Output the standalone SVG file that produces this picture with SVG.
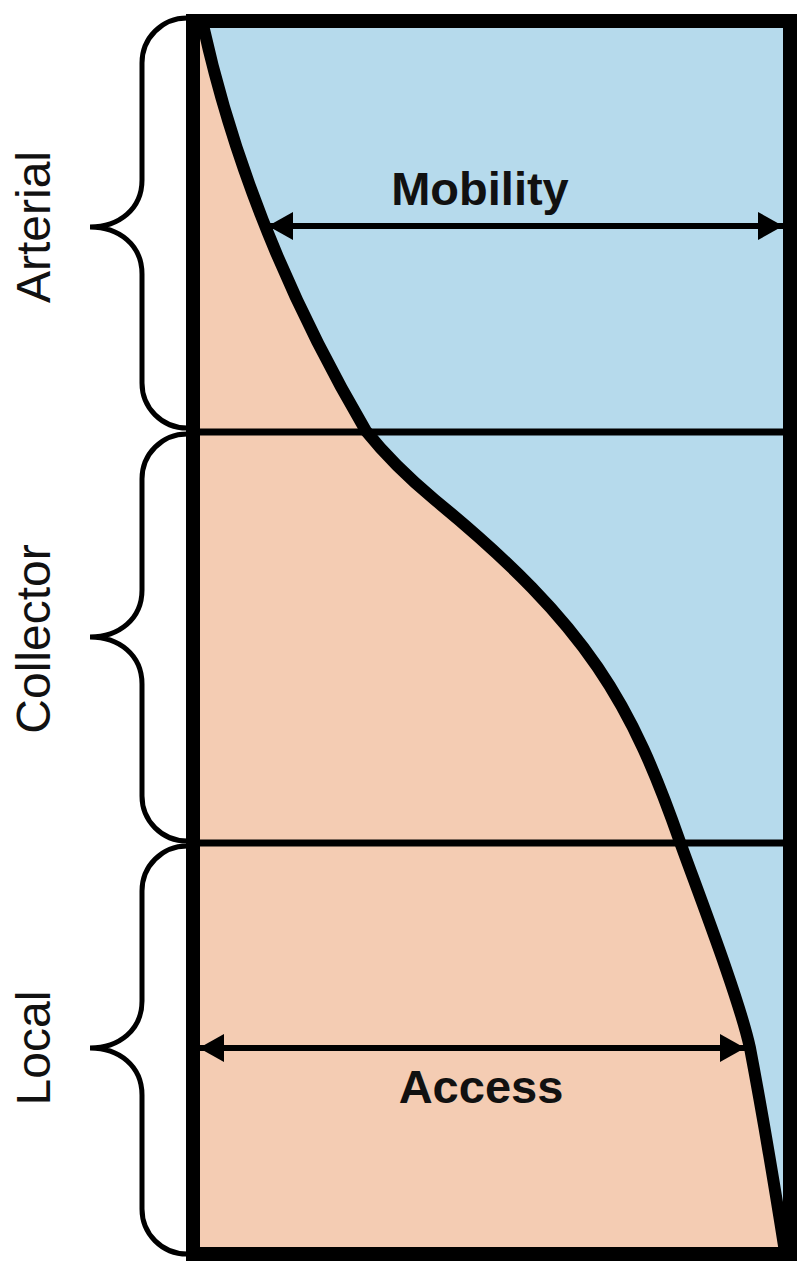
<svg xmlns="http://www.w3.org/2000/svg" width="810" height="1278" viewBox="0 0 810 1278">
<style>
.side{font-family:"Liberation Sans",Arial,sans-serif;font-size:48px;fill:#111;text-anchor:middle}
.lbl{font-family:"Liberation Sans",Arial,sans-serif;font-size:47px;font-weight:bold;fill:#111;text-anchor:middle}
.brace{fill:none;stroke:#000;stroke-width:5}
.arr{stroke:#000;stroke-width:6;fill:none}
.div{stroke:#000;stroke-width:7}
</style>
<defs>
<marker id="ah" markerWidth="26" markerHeight="30" refX="25" refY="14" orient="auto-start-reverse" markerUnits="userSpaceOnUse">
<path d="M0,0 L25,14 L0,28 Z" fill="#000"/>
</marker>
</defs>
<g id="chart">
<rect x="193" y="21" width="597" height="1233" fill="#B6DAEC"/>
<path id="access-area" d="M203,25 C234,165 289,300 366,431 C386,456 405,475 435,500 C590,627 632,705 680,842 C698,892 739,998 750,1048 C758,1090 772,1170 785,1252 L200,1252 L200,25 Z" fill="#F4CCB3"/>
<line class="div" x1="200" y1="432" x2="784" y2="432"/>
<line class="div" x1="200" y1="843" x2="784" y2="843"/>
<path id="curve" d="M203,25 C234,165 289,300 366,431 C386,456 405,475 435,500 C590,627 632,705 680,842 C698,892 739,998 750,1048 C758,1090 772,1170 785,1252" fill="none" stroke="#000" stroke-width="12" stroke-linejoin="round"/>
<rect x="193" y="21" width="597" height="1233" fill="none" stroke="#000" stroke-width="14"/>
</g>
<g id="connectors">
<line class="arr" x1="268" y1="226" x2="783" y2="226" marker-start="url(#ah)" marker-end="url(#ah)"/>
<line class="arr" x1="199" y1="1048" x2="745" y2="1048" marker-start="url(#ah)" marker-end="url(#ah)"/>
</g>
<g id="mobility"><text class="lbl" x="480" y="205">Mobility</text></g>
<g id="access"><text class="lbl" x="481" y="1103">Access</text></g>
<g id="arterial">
<path class="brace" d="M187,18 C162,18 142,38 142,63 L142,180 C142,209 119,227 90,227 C119,227 142,245 142,274 L142,383 C142,408 162,428 187,428"/>
<text class="side" transform="translate(50,227) rotate(-90)">Arterial</text>
</g>
<g id="collector">
<path class="brace" d="M187,434 C162,434 142,454 142,479 L142,590 C142,619 119,637 90,637 C119,637 142,655 142,684 L142,796 C142,821 162,841 187,841"/>
<text class="side" transform="translate(50,639) rotate(-90)">Collector</text>
</g>
<g id="local">
<path class="brace" d="M187,846 C162,846 142,866 142,891 L142,1001 C142,1030 119,1048 90,1048 C119,1048 142,1066 142,1095 L142,1209 C142,1234 162,1254 187,1254"/>
<text class="side" transform="translate(50,1048) rotate(-90)">Local</text>
</g>
</svg>
